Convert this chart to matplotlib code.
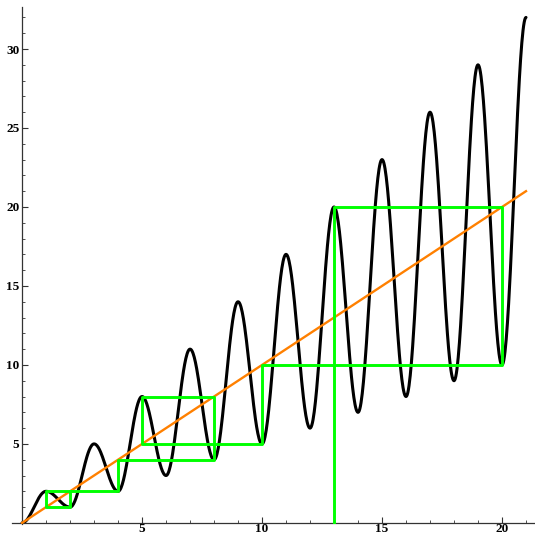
"""Collatz-type map with cobweb orbit starting at 13."""
import numpy as np
import matplotlib
matplotlib.use('Agg')
import matplotlib.pyplot as plt
from matplotlib.ticker import MultipleLocator, FixedLocator

# values of the black curve at integers 0..21
n_vals = list(range(22))
f_vals = [0, 2, 1, 5, 2, 8, 3, 11, 4, 14, 5, 17, 6, 20, 7, 23, 8, 26, 9, 29, 10, 32]

# diagonal y = x
diag_x = [0, 21]
diag_y = [0, 21]

# orbit used for the cobweb
orbit = [13, 20, 10, 5, 8, 4, 2, 1, 2]

x_ticks = [5, 10, 15, 20]
y_ticks = [5, 10, 15, 20, 25, 30]

W, H = 535, 537
fig = plt.figure(figsize=(W / 100, H / 100), dpi=100)
ax = fig.add_axes([12 / W, (H - 524) / H, 523 / W, 517 / H])

# smooth curve: cosine easing between consecutive integer values
xs, ys = [], []
for i in range(len(n_vals) - 1):
    t = np.linspace(0, 1, 40, endpoint=False)
    s = (1 - np.cos(np.pi * t)) / 2
    xs.append(n_vals[i] + t)
    ys.append(f_vals[i] + (f_vals[i + 1] - f_vals[i]) * s)
xs.append([n_vals[-1]])
ys.append([f_vals[-1]])
xs = np.concatenate(xs)
ys = np.concatenate(ys)
ax.plot(xs, ys, color='black', lw=2.2, solid_capstyle='round', zorder=2)

ax.plot(diag_x, diag_y, color='#FF8000', lw=1.7, zorder=3)

# cobweb path
cx, cy = [orbit[0]], [0]
for a, b in zip(orbit[:-1], orbit[1:]):
    cx += [a, b]
    cy += [b, b]
ax.plot(cx, cy, color='#00FF00', lw=2.1, zorder=4)

ax.set_xlim(-0.42, 21.375)
ax.set_ylim(-0.07, 32.66)

for side in ['top', 'right']:
    ax.spines[side].set_visible(False)
ax.spines['left'].set_position(('data', 0))
ax.spines['bottom'].set_position(('data', 0))
for side in ['left', 'bottom']:
    ax.spines[side].set_color('#333333')
    ax.spines[side].set_linewidth(0.9)

ax.xaxis.set_major_locator(FixedLocator(x_ticks))
ax.yaxis.set_major_locator(FixedLocator(y_ticks))
ax.xaxis.set_minor_locator(MultipleLocator(1))
ax.yaxis.set_minor_locator(MultipleLocator(1))
ax.tick_params(which='major', direction='in', length=4, width=0.8, color='#333333',
               labelsize=9.5, pad=2)
ax.tick_params(axis='x', which='major', pad=0.3)
ax.tick_params(which='minor', direction='in', length=2.2, width=0.6, color='#333333')
ax.set_xticklabels([str(v) for v in x_ticks], family='Liberation Serif', fontweight='bold')
ax.set_yticklabels([str(v) for v in y_ticks], family='Liberation Serif', fontweight='bold')

fig.savefig('out.png', dpi=100)
